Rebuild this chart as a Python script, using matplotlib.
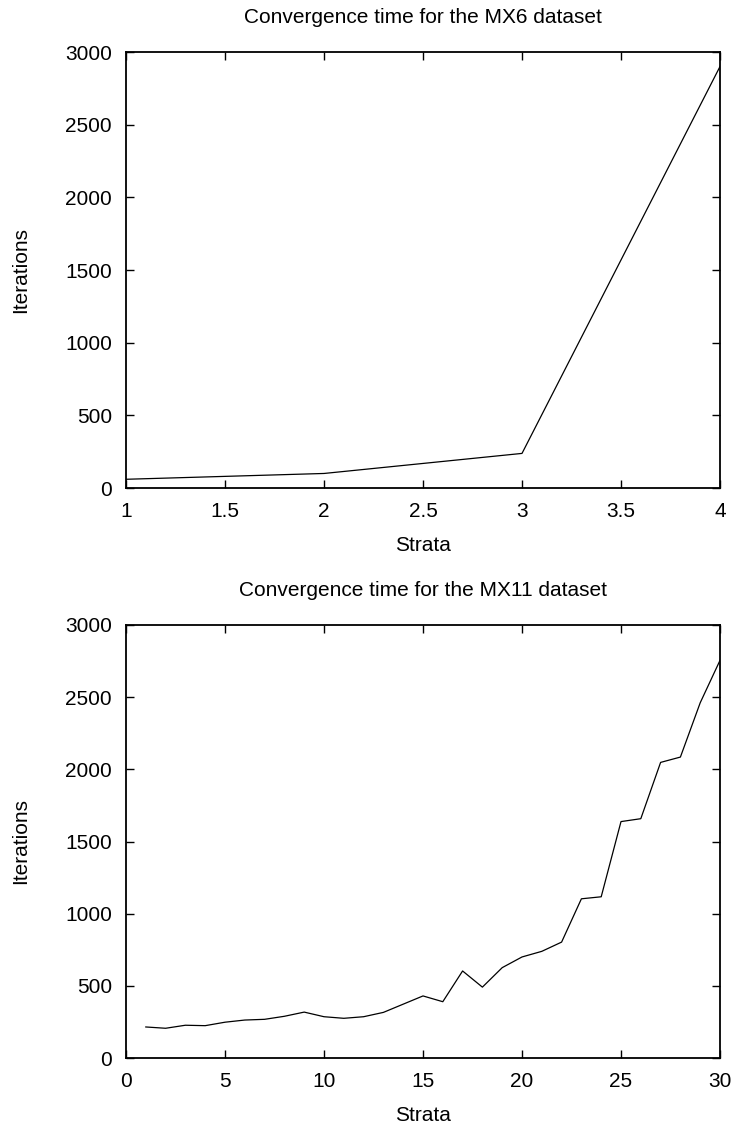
import numpy as np
import matplotlib.pyplot as plt

plt.rcParams['font.family'] = ['Liberation Sans', 'DejaVu Sans']
plt.rcParams['font.size'] = 15

# MX6 dataset
strata_mx6 = [1, 2, 3, 4]
iters_mx6 = [60, 100, 238, 2900]

# MX11 dataset
strata_mx11 = list(range(1, 31))
iters_mx11 = [215, 206, 227, 224, 248, 263, 268, 289, 318, 286,
              275, 286, 316, 373, 430, 390, 603, 491, 626, 700,
              739, 803, 1103, 1117, 1638, 1658, 2048, 2085, 2461, 2755]

fig = plt.figure(figsize=(7.36, 11.28), dpi=100)
W, H = 736, 1128


def make_ax(left, top, right, bottom):
    return fig.add_axes([left / W, 1 - bottom / H, (right - left) / W, (bottom - top) / H])


def style(ax):
    ax.tick_params(direction='in', length=5.5, width=1, top=True, right=True, labelsize=15)
    ax.tick_params(axis='x', pad=10)
    ax.tick_params(axis='y', pad=10)
    for s in ax.spines.values():
        s.set_linewidth(1.3)


ax1 = make_ax(126, 52, 720, 488)
ax1.plot(strata_mx6, iters_mx6, color='black', linewidth=0.9)
ax1.set_xlim(1, 4)
ax1.set_ylim(0, 3000)
ax1.set_xticks(np.arange(1, 4.01, 0.5))
ax1.set_xticklabels(['1', '1.5', '2', '2.5', '3', '3.5', '4'])
ax1.set_yticks(np.arange(0, 3001, 500))
ax1.set_xlabel('Strata', labelpad=11, fontsize=15)
ax1.set_ylabel('Iterations', labelpad=25, fontsize=15)
ax1.set_title('Convergence time for the MX6 dataset', pad=21, fontsize=15)
style(ax1)

ax2 = make_ax(126, 625, 720, 1058)
ax2.plot(strata_mx11, iters_mx11, color='black', linewidth=0.9)
ax2.set_xlim(0, 30)
ax2.set_ylim(0, 3000)
ax2.set_xticks(np.arange(0, 31, 5))
ax2.set_yticks(np.arange(0, 3001, 500))
ax2.set_xlabel('Strata', labelpad=11, fontsize=15)
ax2.set_ylabel('Iterations', labelpad=25, fontsize=15)
ax2.set_title('Convergence time for the MX11 dataset', pad=21, fontsize=15)
style(ax2)

fig.savefig('out.png', dpi=100)
